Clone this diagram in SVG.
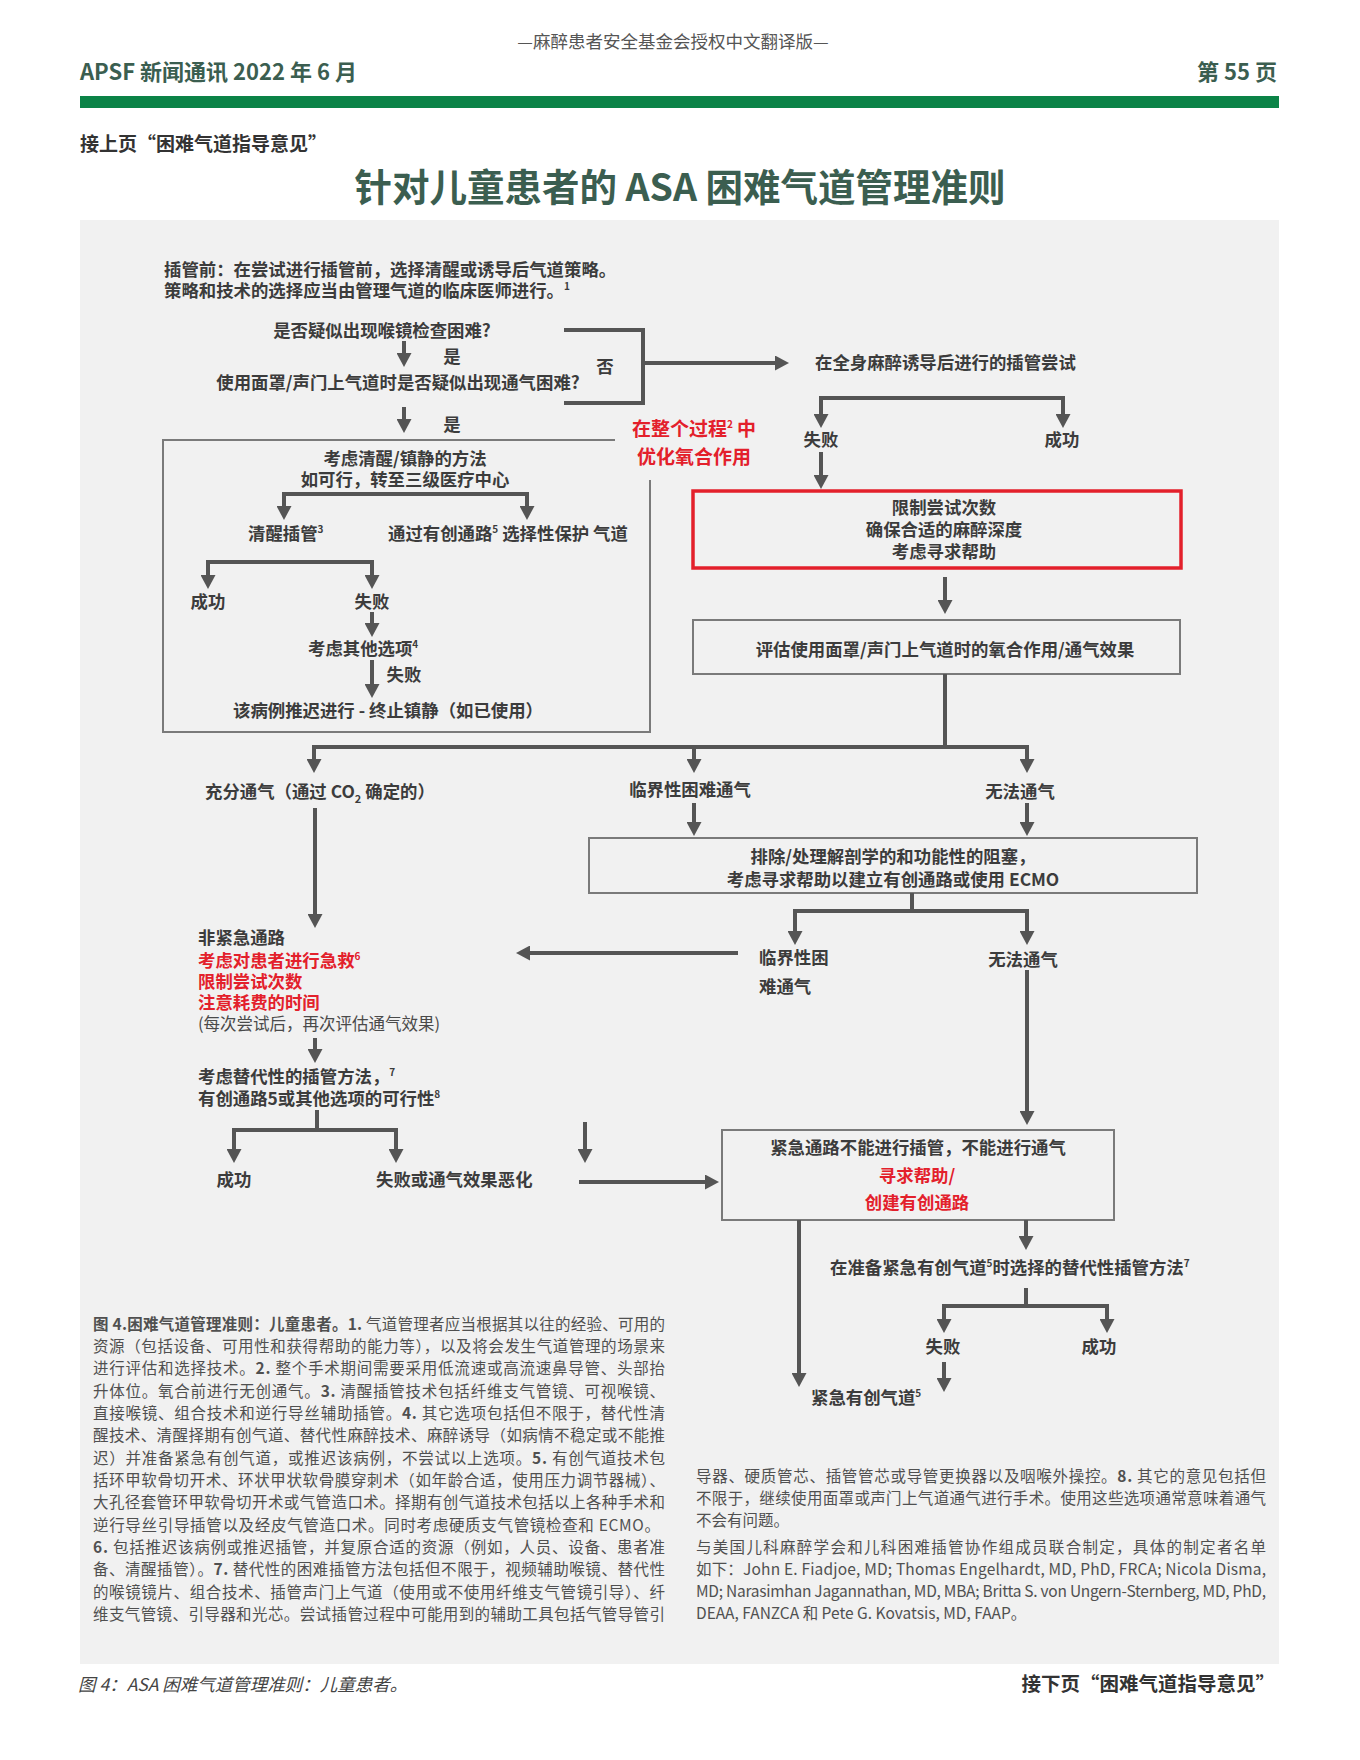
<svg xmlns="http://www.w3.org/2000/svg" width="1360" height="1760" viewBox="0 0 1360 1760">
<defs>
<marker id="ah" viewBox="0 0 14 15" refX="10" refY="7.5" markerWidth="14" markerHeight="15" markerUnits="userSpaceOnUse" orient="auto"><path d="M0,0 L14,7.5 L0,15 z" fill="#555"/></marker>
<style>
text{font-family:"Noto Sans CJK SC","Noto Sans",sans-serif}
.t{font-size:17.4px;font-weight:700;fill:#3c3c3c}
.c{text-anchor:middle}
.r{fill:#e3202b}
.reg{font-weight:400;fill:#4a4a4a}
.sup{font-size:10px}
.n{font-size:15.5px;font-weight:400;fill:#505050}
.b{font-weight:700}
.hd{font-weight:700;fill:#3b5e50}
.box{fill:none;stroke:#7a7a7a;stroke-width:2}
.con path{fill:none;stroke:#555;stroke-width:4;stroke-linejoin:miter}
.arr{marker-end:url(#ah)}
</style>
</defs>
<rect width="1360" height="1760" fill="#ffffff"/>
<g id="header">
<text x="673" y="48" text-anchor="middle" style="font-size:17.5px;fill:#555">—麻醉患者安全基金会授权中文翻译版—</text>
<text x="80" y="80" class="hd" style="font-size:22px">APSF 新闻通讯 2022 年 6 月</text>
<text x="1277" y="80" class="hd" text-anchor="end" style="font-size:22px">第 55 页</text>
<rect x="80" y="96" width="1199" height="12" fill="#0b8347"/>
<text x="80" y="151" style="font-size:19px;font-weight:700;fill:#333">接上页“困难气道指导意见”</text>
<text x="680" y="201" class="hd" text-anchor="middle" style="font-size:37.5px">针对儿童患者的 ASA 困难气道管理准则</text>
</g>
<rect id="panel" x="80" y="220" width="1199" height="1444" fill="#f1f1f1"/>

<g id="intro">
<text x="164" y="276" class="t">插管前：在尝试进行插管前，选择清醒或诱导后气道策略。</text>
<text x="164" y="296.5" class="t">策略和技术的选择应当由管理气道的临床医师进行。<tspan class="sup" dy="-7">1</tspan></text>
</g>
<g id="q1"><text x="382" y="337" class="t c">是否疑似出现喉镜检查困难?</text></g>
<g id="yes1"><text x="452" y="363" class="t c">是</text></g>
<g id="q2"><text x="398" y="389" class="t c">使用面罩/声门上气道时是否疑似出现通气困难?</text></g>
<g id="yes2"><text x="452" y="431" class="t c">是</text></g>
<g id="no"><text x="605" y="373" class="t c">否</text></g>
<g id="induction"><text x="815" y="369" class="t">在全身麻醉诱导后进行的插管尝试</text></g>
<g id="ga-fail"><text x="821" y="446" class="t c">失败</text></g>
<g id="ga-success"><text x="1062" y="446" class="t c">成功</text></g>
<g id="oxygen-note">
<text x="694" y="436" class="t c r" style="font-size:19px">在整个过程<tspan class="sup" dy="-8">2</tspan><tspan dy="8"> 中</tspan></text>
<text x="694" y="464" class="t c r" style="font-size:19px">优化氧合作用</text>
</g>
<g id="limit-box">
<rect x="693" y="491" width="488" height="77" fill="none" stroke="#e3202b" stroke-width="3.5"/>
<text x="944" y="514" class="t c">限制尝试次数</text>
<text x="944" y="536" class="t c">确保合适的麻醉深度</text>
<text x="944" y="558" class="t c">考虑寻求帮助</text>
</g>
<g id="assess-box">
<rect x="693" y="620" width="487" height="54" class="box"/>
<text x="945" y="656" class="t c">评估使用面罩/声门上气道时的氧合作用/通气效果</text>
</g>

<g id="awake-box">
<path d="M615,440 H163 V732 H650 V480" class="box"/>
<text x="405" y="465" class="t c">考虑清醒/镇静的方法</text>
<text x="405" y="486" class="t c">如可行，转至三级医疗中心</text>
</g>
<g id="awake-intubation"><text x="248" y="540" class="t">清醒插管<tspan class="sup" dy="-7">3</tspan></text></g>
<g id="invasive-protect"><text x="388" y="540" class="t">通过有创通路<tspan class="sup" dy="-7">5</tspan><tspan dy="7"> 选择性保护 气道</tspan></text></g>
<g id="awake-success"><text x="208" y="608" class="t c">成功</text></g>
<g id="awake-fail"><text x="372" y="608" class="t c">失败</text></g>
<g id="other-options"><text x="308" y="655" class="t">考虑其他选项<tspan class="sup" dy="-7">4</tspan></text></g>
<g id="other-fail"><text x="404" y="681" class="t c">失败</text></g>
<g id="postpone"><text x="233" y="717" class="t">该病例推迟进行 - 终止镇静（如已使用）</text></g>

<g id="adequate"><text x="205" y="798" class="t">充分通气（通过 CO<tspan style="font-size:11px" dy="5">2</tspan><tspan dy="-5"> 确定的）</tspan></text></g>
<g id="marginal1"><text x="690" y="796" class="t c">临界性困难通气</text></g>
<g id="cannot1"><text x="1020" y="798" class="t c">无法通气</text></g>
<g id="exclude-box">
<rect x="589" y="838" width="608" height="55" class="box"/>
<text x="893" y="863" class="t c">排除/处理解剖学的和功能性的阻塞，</text>
<text x="893" y="886" class="t c">考虑寻求帮助以建立有创通路或使用 ECMO</text>
</g>
<g id="marginal2">
<text x="759" y="964" class="t">临界性困</text>
<text x="759" y="993" class="t">难通气</text>
</g>
<g id="cannot2"><text x="1023" y="966" class="t c">无法通气</text></g>

<g id="non-emergency">
<text x="198" y="944" class="t">非紧急通路</text>
<text x="198" y="967" class="t r">考虑对患者进行急救<tspan class="sup" dy="-7">6</tspan></text>
<text x="198" y="988" class="t r">限制尝试次数</text>
<text x="198" y="1009" class="t r">注意耗费的时间</text>
<text x="198" y="1030" class="t reg" style="font-size:16.5px">(每次尝试后，再次评估通气效果)</text>
</g>
<g id="alternative">
<text x="198" y="1083" class="t">考虑替代性的插管方法，<tspan class="sup" dy="-7">7</tspan></text>
<text x="198" y="1105" class="t">有创通路5或其他选项的可行性<tspan class="sup" dy="-7">8</tspan></text>
</g>
<g id="alt-success"><text x="234" y="1186" class="t c">成功</text></g>
<g id="alt-fail"><text x="376" y="1186" class="t">失败或通气效果恶化</text></g>

<g id="emergency-box">
<rect x="722" y="1130" width="392" height="90" class="box"/>
<text x="918" y="1154" class="t c">紧急通路不能进行插管，不能进行通气</text>
<text x="917" y="1182" class="t c r">寻求帮助/</text>
<text x="917" y="1209" class="t c r">创建有创通路</text>
</g>
<g id="alt-prepare"><text x="830" y="1274" class="t">在准备紧急有创气道<tspan class="sup" dy="-7">5</tspan><tspan dy="7">时选择的替代性插管方法</tspan><tspan class="sup" dy="-7">7</tspan></text></g>
<g id="prep-fail"><text x="943" y="1353" class="t c">失败</text></g>
<g id="prep-success"><text x="1099" y="1353" class="t c">成功</text></g>
<g id="emergency-invasive"><text x="811" y="1404" class="t">紧急有创气道<tspan class="sup" dy="-7">5</tspan></text></g>

<g id="connectors" class="con">
<path class="arr" d="M404,341 V363"/>
<path class="arr" d="M404,407 V429"/>
<path d="M564,330 H643 V403 H564"/>
<path class="arr" d="M643,363 H785"/>
<path class="arr" d="M942,398 H821 V424"/>
<path class="arr" d="M942,398 H1063 V424"/>
<path class="arr" d="M821,452 V485"/>
<path class="arr" d="M945,577 V610"/>
<path class="arr" d="M945,674 V747 H314 V769"/>
<path class="arr" d="M694,747 V769"/>
<path class="arr" d="M945,747 H1027 V769"/>
<path class="arr" d="M694,803 V832"/>
<path class="arr" d="M1027,803 V832"/>
<path class="arr" d="M912,893 V911 H795 V941"/>
<path class="arr" d="M912,911 H1027 V941"/>
<path class="arr" d="M738,953 H520"/>
<path class="arr" d="M1027,970 V1121"/>
<path class="arr" d="M315,808 V924"/>
<path class="arr" d="M315,1038 V1059"/>
<path class="arr" d="M317,1110 V1130 H234 V1159"/>
<path class="arr" d="M317,1130 H396 V1159"/>
<path class="arr" d="M585,1122 V1159"/>
<path class="arr" d="M579,1182 H715"/>
<path class="arr" d="M799,1220 V1383"/>
<path class="arr" d="M1026,1220 V1246"/>
<path class="arr" d="M1026,1288 V1306 H944 V1329"/>
<path class="arr" d="M1026,1306 H1107 V1329"/>
<path class="arr" d="M944,1362 V1388"/>
<path class="arr" d="M405,494 H284 V516"/>
<path class="arr" d="M405,494 H527 V516"/>
<path class="arr" d="M290,562 H208 V585"/>
<path class="arr" d="M290,562 H372 V585"/>
<path class="arr" d="M372,612 V633"/>
<path class="arr" d="M372,660 V694"/>
</g>

<g id="footnotes-left" class="n">
<text x="93" y="1330" textLength="572" lengthAdjust="spacing"><tspan class="b">图 4.困难气道管理准则：儿童患者。</tspan><tspan class="b">1.</tspan> 气道管理者应当根据其以往的经验、可用的</text>
<text x="93" y="1352" textLength="572" lengthAdjust="spacing">资源（包括设备、可用性和获得帮助的能力等），以及将会发生气道管理的场景来</text>
<text x="93" y="1374" textLength="572" lengthAdjust="spacing">进行评估和选择技术。<tspan class="b">2.</tspan> 整个手术期间需要采用低流速或高流速鼻导管、头部抬</text>
<text x="93" y="1397" textLength="572" lengthAdjust="spacing">升体位。氧合前进行无创通气。<tspan class="b">3.</tspan> 清醒插管技术包括纤维支气管镜、可视喉镜、</text>
<text x="93" y="1419" textLength="572" lengthAdjust="spacing">直接喉镜、组合技术和逆行导丝辅助插管。<tspan class="b">4.</tspan> 其它选项包括但不限于，替代性清</text>
<text x="93" y="1441" textLength="572" lengthAdjust="spacing">醒技术、清醒择期有创气道、替代性麻醉技术、麻醉诱导（如病情不稳定或不能推</text>
<text x="93" y="1464" textLength="572" lengthAdjust="spacing">迟）并准备紧急有创气道，或推迟该病例，不尝试以上选项。<tspan class="b">5.</tspan> 有创气道技术包</text>
<text x="93" y="1486" textLength="572" lengthAdjust="spacing">括环甲软骨切开术、环状甲状软骨膜穿刺术（如年龄合适，使用压力调节器械）、</text>
<text x="93" y="1508" textLength="572" lengthAdjust="spacing">大孔径套管环甲软骨切开术或气管造口术。择期有创气道技术包括以上各种手术和</text>
<text x="93" y="1531" textLength="567" lengthAdjust="spacing">逆行导丝引导插管以及经皮气管造口术。同时考虑硬质支气管镜检查和 ECMO。</text>
<text x="93" y="1553" textLength="572" lengthAdjust="spacing"><tspan class="b">6.</tspan> 包括推迟该病例或推迟插管，并复原合适的资源（例如，人员、设备、患者准</text>
<text x="93" y="1575" textLength="572" lengthAdjust="spacing">备、清醒插管）。<tspan class="b">7.</tspan> 替代性的困难插管方法包括但不限于，视频辅助喉镜、替代性</text>
<text x="93" y="1598" textLength="572" lengthAdjust="spacing">的喉镜镜片、组合技术、插管声门上气道（使用或不使用纤维支气管镜引导）、纤</text>
<text x="93" y="1620" textLength="572" lengthAdjust="spacing">维支气管镜、引导器和光芯。尝试插管过程中可能用到的辅助工具包括气管导管引</text>
</g>
<g id="footnotes-right" class="n">
<text x="696" y="1482" textLength="570" lengthAdjust="spacing">导器、硬质管芯、插管管芯或导管更换器以及咽喉外操控。<tspan class="b">8.</tspan> 其它的意见包括但</text>
<text x="696" y="1504" textLength="570" lengthAdjust="spacing">不限于，继续使用面罩或声门上气道通气进行手术。使用这些选项通常意味着通气</text>
<text x="696" y="1526">不会有问题。</text>
<text x="696" y="1553" textLength="570" lengthAdjust="spacing">与美国儿科麻醉学会和儿科困难插管协作组成员联合制定，具体的制定者名单</text>
<text x="696" y="1575" textLength="570" lengthAdjust="spacing">如下：John E. Fiadjoe, MD; Thomas Engelhardt, MD, PhD, FRCA; Nicola Disma,</text>
<text x="696" y="1597" textLength="570" lengthAdjust="spacing">MD; Narasimhan Jagannathan, MD, MBA; Britta S. von Ungern-Sternberg, MD, PhD,</text>
<text x="696" y="1619">DEAA, FANZCA 和 Pete G. Kovatsis, MD, FAAP。</text>
</g>
<g id="footer">
<text x="78" y="1691" style="font-size:17.5px;font-style:italic;fill:#444">图 4：ASA 困难气道管理准则：儿童患者。</text>
<text x="1275" y="1691" text-anchor="end" style="font-size:19.5px;font-weight:700;fill:#333">接下页“困难气道指导意见”</text>
</g>
</svg>
